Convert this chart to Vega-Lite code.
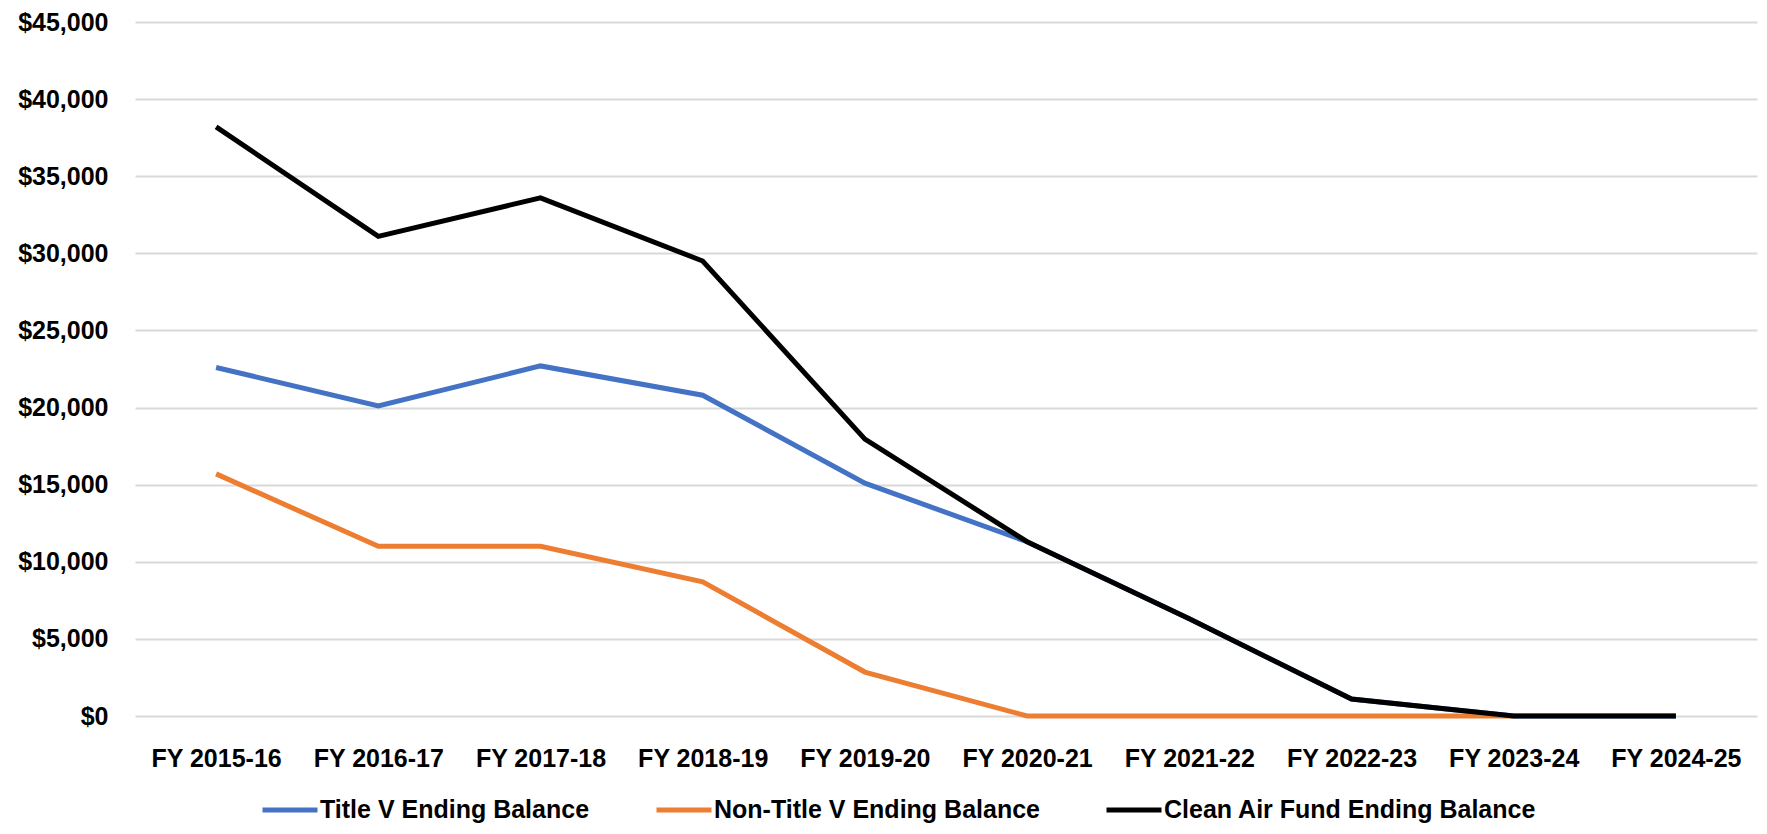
{
  "$schema": "https://vega.github.io/schema/vega-lite/v6.json",
  "autosize": "none",
  "width": 1622,
  "height": 694,
  "padding": {"left": 135, "top": 22, "right": 10, "bottom": 118},
  "background": "white",
  "config": {
    "view": {"stroke": null},
    "font": "Liberation Sans",
    "axis": {"labelFont": "Liberation Sans", "labelFontWeight": "bold", "labelFontSize": 25, "labelColor": "#000000"},
    "legend": {"labelFont": "Liberation Sans", "labelFontWeight": "bold", "labelFontSize": 25, "labelColor": "#000000", "labelLimit": 500}
  },
  "data": {
    "values": [
      {"year": "FY 2015-16", "series": "Title V Ending Balance", "value": 22600},
      {"year": "FY 2016-17", "series": "Title V Ending Balance", "value": 20100},
      {"year": "FY 2017-18", "series": "Title V Ending Balance", "value": 22700},
      {"year": "FY 2018-19", "series": "Title V Ending Balance", "value": 20800},
      {"year": "FY 2019-20", "series": "Title V Ending Balance", "value": 15100},
      {"year": "FY 2020-21", "series": "Title V Ending Balance", "value": 11300},
      {"year": "FY 2021-22", "series": "Title V Ending Balance", "value": 6300},
      {"year": "FY 2022-23", "series": "Title V Ending Balance", "value": 1100},
      {"year": "FY 2023-24", "series": "Title V Ending Balance", "value": 0},
      {"year": "FY 2024-25", "series": "Title V Ending Balance", "value": 0},
      {"year": "FY 2015-16", "series": "Non-Title V Ending Balance", "value": 15700},
      {"year": "FY 2016-17", "series": "Non-Title V Ending Balance", "value": 11000},
      {"year": "FY 2017-18", "series": "Non-Title V Ending Balance", "value": 11000},
      {"year": "FY 2018-19", "series": "Non-Title V Ending Balance", "value": 8700},
      {"year": "FY 2019-20", "series": "Non-Title V Ending Balance", "value": 2850},
      {"year": "FY 2020-21", "series": "Non-Title V Ending Balance", "value": 0},
      {"year": "FY 2021-22", "series": "Non-Title V Ending Balance", "value": 0},
      {"year": "FY 2022-23", "series": "Non-Title V Ending Balance", "value": 0},
      {"year": "FY 2023-24", "series": "Non-Title V Ending Balance", "value": 0},
      {"year": "FY 2015-16", "series": "Clean Air Fund Ending Balance", "value": 38200},
      {"year": "FY 2016-17", "series": "Clean Air Fund Ending Balance", "value": 31100},
      {"year": "FY 2017-18", "series": "Clean Air Fund Ending Balance", "value": 33600},
      {"year": "FY 2018-19", "series": "Clean Air Fund Ending Balance", "value": 29500},
      {"year": "FY 2019-20", "series": "Clean Air Fund Ending Balance", "value": 17950},
      {"year": "FY 2020-21", "series": "Clean Air Fund Ending Balance", "value": 11300},
      {"year": "FY 2021-22", "series": "Clean Air Fund Ending Balance", "value": 6300},
      {"year": "FY 2022-23", "series": "Clean Air Fund Ending Balance", "value": 1100},
      {"year": "FY 2023-24", "series": "Clean Air Fund Ending Balance", "value": 0},
      {"year": "FY 2024-25", "series": "Clean Air Fund Ending Balance", "value": 0}
    ]
  },
  "mark": {"type": "line", "strokeJoin": "miter", "strokeCap": "butt"},
  "encoding": {
    "x": {
      "field": "year", "type": "ordinal", "sort": null,
      "scale": {"type": "point", "padding": 0.5},
      "axis": {"title": null, "labelAngle": 0, "domain": false, "ticks": false, "grid": false, "labelPadding": 30}
    },
    "y": {
      "field": "value", "type": "quantitative",
      "scale": {"domain": [0, 45000], "nice": false},
      "axis": {"title": null, "values": [0, 5000, 10000, 15000, 20000, 25000, 30000, 35000, 40000, 45000], "format": "$,.0f", "domain": false, "ticks": false, "grid": true, "gridColor": "#D9D9D9", "gridWidth": 2, "labelPadding": 27}
    },
    "color": {
      "field": "series", "type": "nominal",
      "scale": {"domain": ["Title V Ending Balance", "Non-Title V Ending Balance", "Clean Air Fund Ending Balance"], "range": ["#4472C4", "#ED7D31", "#000000"]},
      "legend": {"title": null, "orient": "none", "legendX": 125, "legendY": 758, "direction": "horizontal", "columns": 3, "symbolType": "stroke", "symbolSize": 3025, "symbolStrokeWidth": 6, "labelOffset": 0, "columnPadding": 56}
    },
    "strokeWidth": {
      "field": "series", "type": "nominal",
      "scale": {"domain": ["Title V Ending Balance", "Non-Title V Ending Balance", "Clean Air Fund Ending Balance"], "range": [5, 5, 6]},
      "legend": null
    },
    "order": {"field": "year"}
  }
}
